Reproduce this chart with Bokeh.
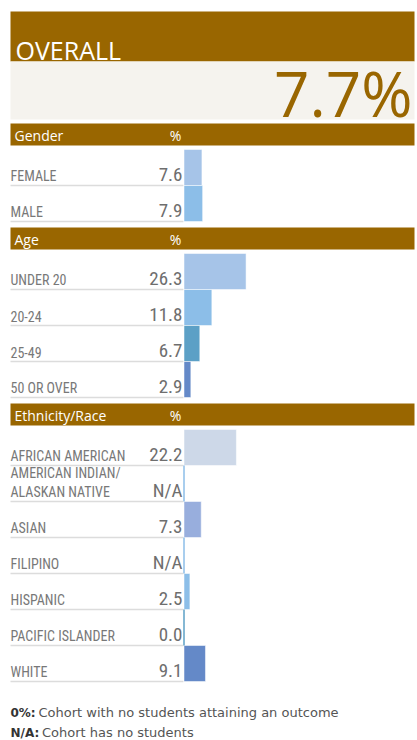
from bokeh.plotting import figure
from bokeh.models import Range1d
from bokeh.core.properties import value
from bokeh.embed import file_html
from bokeh.resources import INLINE

# ---------------- data ----------------
overall_title = "OVERALL"
overall_value = 7.7

gender_title = "Gender"
gender_cats = ["FEMALE", "MALE"]
gender_vals = [7.6, 7.9]

age_title = "Age"
age_cats = ["UNDER 20", "20-24", "25-49", "50 OR OVER"]
age_vals = [26.3, 11.8, 6.7, 2.9]

eth_title = "Ethnicity/Race"
eth_cats = ["AFRICAN AMERICAN", "AMERICAN INDIAN/\nALASKAN NATIVE", "ASIAN",
            "FILIPINO", "HISPANIC", "PACIFIC ISLANDER", "WHITE"]
eth_vals = [22.2, None, 7.3, None, 2.5, 0.0, 9.1]

notes = [("0%:", "Cohort with no students attaining an outcome"),
         ("N/A:", "Cohort has no students")]

# ---------------- styles ----------------
BROWN = "#996600"
CREAM = "#f5f3ee"
gender_colors = ["#a6c4e8", "#8cbee8"]
age_colors = ["#a6c4e8", "#8cbee8", "#5ca0c6", "#6489c8"]
eth_colors = ["#cdd8e8", "#8cbee8", "#98aedd", "#8cbee8", "#8cbee8", "#5ca0c6", "#6489c8"]

NARROW = "Roboto Condensed"
SANS = "Open Sans"
FOOT = "DejaVu Sans"

W, H = 417, 740
LEFT, RIGHT = 10, 414
BAR_X0 = 183.5          # screen x of value 0
PX_PER_UNIT = 2.36
ROW_H = 36
HEAD_H = 22
BASE_FIX = 0.36         # em correction for the rendered baseline


def sy(v):
    return H - v


p = figure(width=W, height=H, x_range=Range1d(0, W), y_range=Range1d(0, H),
           output_backend="svg", toolbar_location=None, min_border=0,
           x_axis_location=None, y_axis_location=None)
p.grid.visible = False
p.outline_line_color = None
p.background_fill_color = "white"
p.border_fill_color = "white"
p.extra_x_ranges = {"val": Range1d(-BAR_X0 / PX_PER_UNIT, (W - BAR_X0) / PX_PER_UNIT)}


def txt(x, y, s, font, size, color, align="left", style="normal"):
    yy = y - BASE_FIX * size
    p.text(x=[x], y=[sy(yy)], text=[s], text_font=value(font), text_font_size=f"{size}px",
           text_color=color, text_baseline="alphabetic", text_align=align,
           text_font_style=style)


# ---------------- overall ----------------
p.quad(left=[LEFT], right=[RIGHT], top=[sy(11)], bottom=[sy(61)], fill_color=BROWN, line_color=None)
p.quad(left=[LEFT], right=[RIGHT], top=[sy(61)], bottom=[sy(119)], fill_color=CREAM, line_color=None)
txt(15, 58, overall_title, SANS, 25, "white")
txt(412, 115, f"{overall_value:.1f}%", SANS, 62, BROWN, "right")


def section(top, title, cats, vals, colors):
    p.quad(left=[LEFT], right=[RIGHT], top=[sy(top)], bottom=[sy(top + HEAD_H)], fill_color=BROWN,
           line_color=None)
    txt(14, top + 17, title, SANS, 14, "white")
    txt(175, top + 17, "%", SANS, 14, "white", "center")
    rows_top = top + HEAD_H + 4
    tops, bots, rights, cols = [], [], [], []
    ztops, zbots, zcols = [], [], []
    for i, (c, v, col) in enumerate(zip(cats, vals, colors)):
        rt = rows_top + i * ROW_H
        rb = rt + ROW_H
        p.segment(x0=[LEFT], x1=[183], y0=[sy(rb)], y1=[sy(rb)], line_color="#dcdcdc", line_width=1.5)
        lines = c.split("\n")
        for j, ln in enumerate(lines):
            txt(LEFT, rb - 4 - (len(lines) - 1 - j) * 19, ln, NARROW, 14, "#787878")
        label = "N/A" if v is None else f"{v:.1f}"
        txt(182, rb - 4, label, NARROW, 19, "#6e6e6e", "right")
        if v:
            tops.append(sy(rt)); bots.append(sy(rb)); rights.append(v); cols.append(col)
        else:
            ztops.append(sy(rt)); zbots.append(sy(rb)); zcols.append(col)
    if tops:
        p.quad(left=[0] * len(tops), right=rights, top=tops, bottom=bots, fill_color=cols,
               line_color="white", line_alpha=0.5, line_width=1, x_range_name="val")
    if ztops:
        p.segment(x0=[0] * len(ztops), x1=[0] * len(ztops), y0=ztops, y1=zbots,
                  line_color=zcols, line_width=1.5, x_range_name="val")
    return rows_top + len(cats) * ROW_H


y = section(123, gender_title, gender_cats, gender_vals, gender_colors)
y = section(y + 6, age_title, age_cats, age_vals, age_colors)
y = section(y + 6, eth_title, eth_cats, eth_vals, eth_colors)

# ---------------- footnotes ----------------
note_x = [38, 41.5]
for k, (b, t) in enumerate(notes):
    yy = 717 + k * 20
    txt(LEFT, yy, b, FOOT, 12, "#333333", style="bold")
    txt(note_x[k], yy, t, FOOT, 13, "#555555")

open("out.html", "w").write(file_html(p, INLINE))
